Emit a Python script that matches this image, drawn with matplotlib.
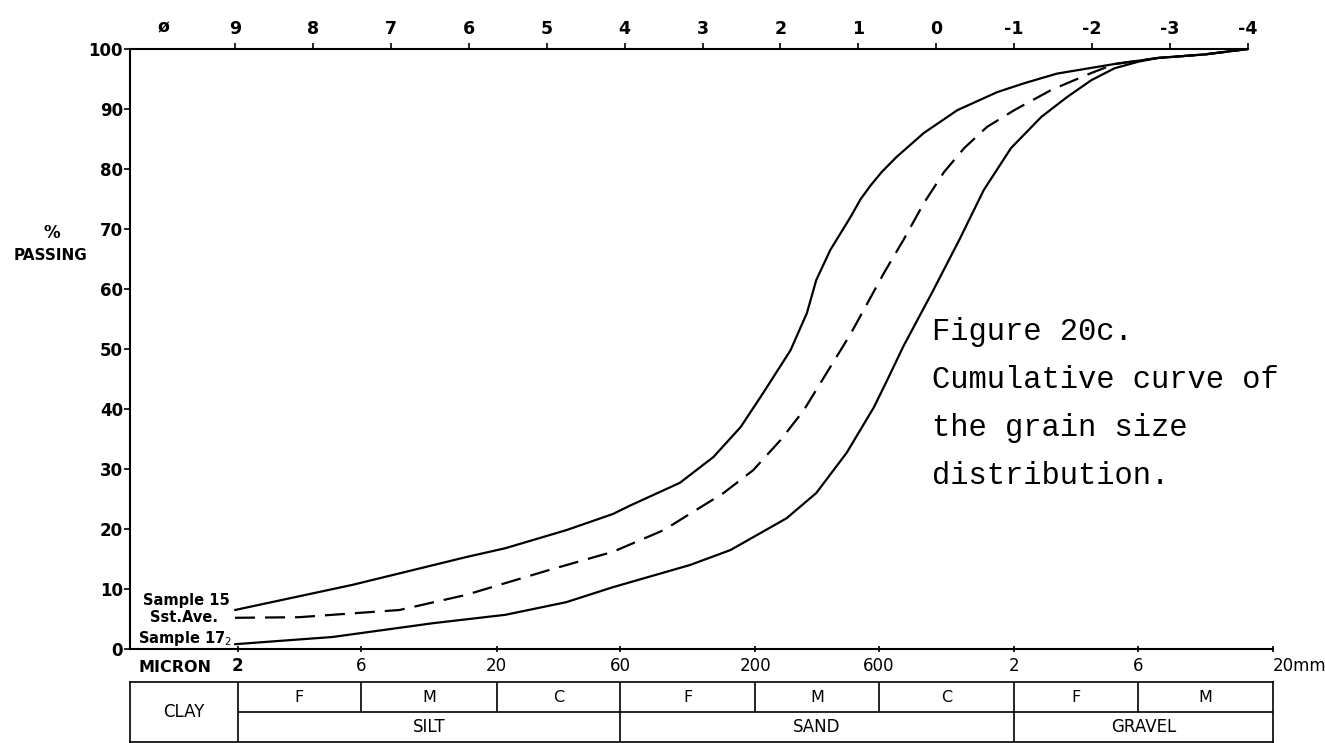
import numpy as np
import matplotlib
matplotlib.use("Agg")
import matplotlib.pyplot as plt

# ---------------- data ----------------
phi_ticks = [9, 8, 7, 6, 5, 4, 3, 2, 1, 0, -1, -2, -3, -4]
pct_ticks = [0, 10, 20, 30, 40, 50, 60, 70, 80, 90, 100]

size_mm = [0.002, 0.006, 0.02, 0.06, 0.2, 0.6, 2, 6, 20]
size_labels = ["2", "6", "20", "60", "200", "600", "2", "6", "20mm"]

# Sample 15 (upper solid curve)
s15_phi = [9.0, 7.49, 6.04, 5.53, 4.75, 4.15, 3.93, 3.29, 2.86, 2.51, 2.22, 1.87,
           1.66, 1.54, 1.36, 1.10, 0.97, 0.84, 0.70, 0.51, 0.16, -0.27, -0.78,
           -1.13, -1.55, -2.29, -2.84, -3.45, -4.0]
s15_pct = [6.5, 10.7, 15.3, 16.8, 19.8, 22.5, 23.9, 27.7, 32.0, 37.0, 42.7, 49.8,
           56.0, 61.5, 66.5, 72.0, 75.0, 77.3, 79.5, 82.0, 86.0, 89.8, 92.8,
           94.3, 95.9, 97.5, 98.5, 99.1, 100.0]

# Sandstone average (dashed curve)
ave_phi = [9.0, 8.18, 6.89, 6.04, 4.96, 4.15, 3.50, 2.73, 2.35, 2.00, 1.70, 1.36,
           1.10, 0.67, 0.42, 0.16, -0.10, -0.36, -0.65, -1.00, -1.48, -1.99,
           -2.29, -2.84, -3.45, -4.0]
ave_pct = [5.2, 5.3, 6.5, 9.0, 13.2, 16.2, 19.8, 26.0, 29.8, 34.8, 39.8, 47.0,
           52.5, 62.7, 68.2, 74.3, 79.5, 83.5, 87.0, 89.8, 93.2, 96.0,
           97.5, 98.5, 99.1, 100.0]

# Sample 17 (lower solid curve)
s17_phi = [9.0, 7.75, 6.46, 5.53, 4.75, 4.15, 3.16, 2.64, 1.92, 1.54, 1.15, 0.80,
           0.63, 0.42, 0.05, -0.30, -0.61, -0.96, -1.35, -1.68, -1.99, -2.29,
           -2.60, -2.84, -3.45, -4.0]
s17_pct = [0.8, 2.0, 4.3, 5.7, 7.8, 10.3, 14.0, 16.5, 21.8, 26.0, 32.7, 40.3,
           44.8, 50.5, 59.5, 68.3, 76.5, 83.5, 88.7, 92.0, 94.8, 96.8,
           97.9, 98.5, 99.1, 100.0]

sub_classes = ["F", "M", "C", "F", "M", "C", "F", "M"]
main_classes = ["SILT", "SAND", "GRAVEL"]
main_bounds_mm = [(0.002, 0.06), (0.06, 2), (2, 20)]
caption = ["Figure 20c.", "Cumulative curve of", "the grain size", "distribution."]


def mm_to_phi(mm):
    return -np.log2(np.asarray(mm, dtype=float))


# ---------------- figure ----------------
W, H = 1325, 743
fig = plt.figure(figsize=(W / 100, H / 100), dpi=100)

x_left = 10.348
x_right = float(mm_to_phi(20))
L, R = 130 / W, 1273 / W
ax = fig.add_axes([L, 1 - 649 / H, R - L, 600 / H])
ax.set_xlim(x_left, x_right)
ax.set_ylim(0, 100)

lw_curve = 1.6
ax.plot(s15_phi, s15_pct, color="black", lw=lw_curve, solid_capstyle="round",
        solid_joinstyle="round")
ax.plot(s17_phi, s17_pct, color="black", lw=lw_curve, solid_capstyle="round",
        solid_joinstyle="round")
ln, = ax.plot(ave_phi, ave_pct, color="black", lw=lw_curve)
ln.set_dashes([9, 4.5])

# spines
for s in ["left", "top", "bottom"]:
    ax.spines[s].set_linewidth(1.5)
ax.spines["right"].set_visible(False)
ax.spines["top"].set_bounds(x_left, -4)

# top phi scale
ax.xaxis.tick_top()
ax.set_xticks(phi_ticks)
ax.set_xticklabels([str(p) for p in phi_ticks], fontsize=12.5, fontweight="bold")
ax.tick_params(axis="x", which="major", direction="out", length=4, width=1.2, pad=4)
ax.annotate("ø", xy=(9.92, 1.0), xycoords=("data", "axes fraction"),
            xytext=(0, 9.4), textcoords="offset points",
            ha="center", va="bottom", fontsize=12.5, fontweight="bold")

# y axis
ax.set_yticks(pct_ticks)
ax.set_yticklabels([str(v) for v in pct_ticks], fontsize=12, fontweight="bold")
ax.tick_params(axis="y", direction="out", length=4, width=1.2, pad=1)
fig.text(52 / W, 1 - 233 / H, "%", ha="center", va="center",
         fontsize=12, fontweight="bold")
fig.text(51 / W, 1 - 255 / H, "PASSING", ha="center", va="center",
         fontsize=11, fontweight="bold")

# bottom micron / mm scale
sec = ax.secondary_xaxis("bottom")
sec.set_xticks(mm_to_phi(size_mm))
sec.set_xticklabels(size_labels, fontsize=12)
sec.tick_params(axis="x", direction="inout", length=5, width=1.2, pad=3)
sec.spines["bottom"].set_visible(False)
labs = sec.get_xticklabels()
labs[0].set_fontweight("bold")
labs[-1].set_ha("left")
ax.annotate("MICRON", xy=(float(mm_to_phi(0.002)), 0), xycoords="data",
            xytext=(-19, -13), textcoords="offset points",
            ha="right", va="center", fontsize=11.5, fontweight="bold")

# curve labels
lab_kw = dict(xycoords="data", textcoords="offset points", ha="right",
              va="center", fontsize=10.5, fontweight="bold")
ax.annotate("Sample 15", xy=(s15_phi[0], s15_pct[0]), xytext=(-4, 7), **lab_kw)
ax.annotate("Sst.Ave.", xy=(ave_phi[0], ave_pct[0]), xytext=(-12, 0), **lab_kw)
ax.annotate("Sample 17$_2$", xy=(s17_phi[0], s17_pct[0]), xytext=(-2, 4), **lab_kw)

# caption
for i, line in enumerate(caption):
    fig.text(932 / W, 1 - (340 + 48 * i) / H, line, ha="left", va="baseline",
             fontsize=22, family="Liberation Mono")

# ---------------- size-class table ----------------
tax = fig.add_axes([L, 1 - 742 / H, R - L, 60 / H])
tax.set_xlim(x_left, x_right)
tax.set_ylim(0, 2)
tax.set_xticks([])
tax.set_yticks([])
for s in tax.spines.values():
    s.set_linewidth(1.2)

bphi = mm_to_phi(size_mm)
full_lines = [mm_to_phi(b[0]) for b in main_bounds_mm]
for p in bphi[:-1]:
    if any(abs(p - f) < 1e-9 for f in full_lines):
        tax.vlines(p, 0, 2, color="black", lw=1.2)
    else:
        tax.vlines(p, 1, 2, color="black", lw=1.2)
tax.hlines(1, bphi[0], bphi[-1], color="black", lw=1.2)

tkw = dict(ha="center", va="center", fontsize=12)
tax.text((x_left + bphi[0]) / 2, 1, "CLAY", **tkw)
for i, name in enumerate(sub_classes):
    tax.text((bphi[i] + bphi[i + 1]) / 2, 1.5, name, fontsize=11.5,
             ha="center", va="center")
for (a, b), name in zip(main_bounds_mm, main_classes):
    tax.text((mm_to_phi(a) + mm_to_phi(b)) / 2, 0.5, name, **tkw)

fig.savefig("out.png", dpi=100, facecolor="white")
